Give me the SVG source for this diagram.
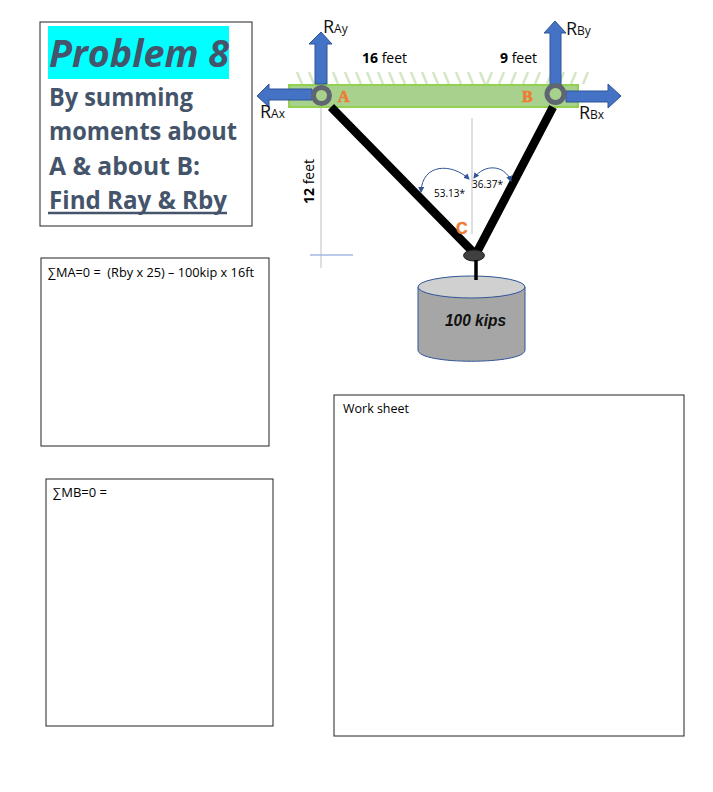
<svg xmlns="http://www.w3.org/2000/svg" width="713" height="792" viewBox="0 0 713 792">
<style>
text{font-family:"Open Sans","Noto Sans",sans-serif;fill:#000}
.box{fill:#fff;stroke:#222;stroke-width:1}
.title{font-size:37px;font-weight:700;font-style:italic;fill:#44546a}
.head{font-size:25.500px;font-weight:700;fill:#44546a}
.note{font-size:12px}
.r{font-size:18px;fill:#111}
.sub{font-size:12px;fill:#111}
.dim{font-size:14px}
.ang{font-size:10px}
.tag{font-family:"Liberation Serif",serif;font-weight:700;font-size:16px;fill:#ed7d31;stroke:#ed7d31;stroke-width:.6}
.tagc{font-family:"Liberation Sans",sans-serif;font-weight:700;font-size:16px;fill:#ed7d31;stroke:#ed7d31;stroke-width:.4}
.arr{fill:#4472c4;stroke:#2f5597;stroke-width:1}
.hatch{stroke:#d3e6c6;stroke-width:2.500;fill:none}
.bar{stroke:#000;stroke-width:8.500;fill:none}
.thin{stroke:#bfbfbf;stroke-width:1;fill:none}
.curve{stroke:#2f5597;stroke-width:1;fill:none;marker-start:url(#h);marker-end:url(#h)}
.pin{fill:#a9d18e;stroke:#5f6672;stroke-width:5}
</style>
<defs><marker id="h" markerWidth="6" markerHeight="6" refX="5" refY="3" orient="auto-start-reverse" markerUnits="userSpaceOnUse"><path d="M0 0L6 3L0 6z" fill="#2f5597"/></marker></defs>

<g id="problem">
<rect class="box" x="40" y="22" width="212" height="204"/>
<rect x="48" y="26" width="181" height="53" fill="#00ffff"/>
<text class="title" x="49" y="67" textLength="180" lengthAdjust="spacingAndGlyphs">Problem 8</text>
<text class="head" x="49" y="106" textLength="144" lengthAdjust="spacingAndGlyphs">By summing</text>
<text class="head" x="49" y="140" textLength="188" lengthAdjust="spacingAndGlyphs">moments about</text>
<text class="head" x="49" y="175" textLength="151" lengthAdjust="spacingAndGlyphs">A &amp; about B:</text>
<text class="head" x="49" y="209" textLength="178" lengthAdjust="spacingAndGlyphs">Find Ray &amp; Rby</text>
<path d="M48 213H227" stroke="#44546a" stroke-width="2.500"/>
</g>
<g id="sum-a"><rect class="box" x="41" y="258" width="228" height="188"/><text class="note" x="48" y="277" xml:space="preserve" textLength="206" lengthAdjust="spacingAndGlyphs">∑MA=0 =  (Rby x 25) – 100kip x 16ft</text></g>
<g id="sum-b"><rect class="box" x="46" y="479" width="227" height="247"/><text class="note" x="53" y="497" textLength="54" lengthAdjust="spacingAndGlyphs">∑MB=0 =</text></g>
<g id="worksheet"><rect class="box" x="334" y="395" width="350" height="341"/><text class="note" x="343" y="413" textLength="66" lengthAdjust="spacingAndGlyphs">Work sheet</text></g>

<g id="beam">
<path class="hatch" d="M297 72l5 12M309 72l5 12M321 72l5 12M333 72l5 12M345 72l5 12M356 72l5 12M367 72l5 12M378 72l5 12M389 72l5 12M400 72l5 12M411 72l5 12M422 72l5 12M433 72l5 12M444 72l5 12M456 72l5 12M468 72l5 12M480 72l5 12M492 72l-5 12M504 72l-5 12M516 72l-5 12M528 72l-5 12M540 72l-5 12M552 72l-5 12M564 72l-5 12M576 72l-5 12M588 72l-5 12"/>
<rect x="289" y="85" width="289" height="22" fill="#a9d18e" stroke="#92d050" stroke-width="2"/>
</g>

<g id="connectors">
<path class="thin" d="M321 108V268M472 118V234"/>
<path d="M310 255H353" stroke="#a4b9e2" stroke-width="1.500" fill="none"/>
<path class="bar" d="M331 107L474 253M553 107L477 252"/>
<path class="curve" d="M421 192C422 163 452 163 469 179"/>
<path class="curve" d="M474 178C484 164 504 164 511 181"/>
</g>

<g id="reaction-ay"><path class="arr" d="M315 84V44H309L321 32L332 44H327V84z"/><text class="r" x="323" y="33">R<tspan class="sub">Ay</tspan></text></g>
<g id="reaction-ax"><path class="arr" d="M312 89H269V84L257 96L269 107V100H312z"/><text class="r" x="260" y="118">R<tspan class="sub">Ax</tspan></text></g>
<g id="reaction-by"><path class="arr" d="M550 85V33H544L555 21L566 33H561V85z"/><text class="r" x="566" y="35">R<tspan class="sub">By</tspan></text></g>
<g id="reaction-bx"><path class="arr" d="M566 91H608V84L621 96L608 108V102H566z"/><text class="r" x="579" y="119">R<tspan class="sub">Bx</tspan></text></g>

<g id="pin-a"><circle class="pin" cx="321.500" cy="95.500" r="8"/><text class="tag" x="338" y="102">A</text></g>
<g id="pin-b"><circle class="pin" cx="555.500" cy="94" r="8.500"/><text class="tag" x="522" y="102">B</text></g>
<g id="joint-c"><ellipse cx="474" cy="255.500" rx="10.500" ry="5.500" fill="#404040" stroke="#222"/><text class="tagc" x="456" y="234">C</text></g>

<g id="load">
<path d="M418 287V350C418 365 525 365 525 350V287z" fill="#a6a6a6" stroke="#2f5597"/>
<ellipse cx="471.500" cy="287" rx="53.500" ry="11" fill="#d0d0d0" stroke="#2f5597"/>
<path d="M476 260V280" stroke="#000" stroke-width="3.500"/>
<text x="445" y="326" style="font-family:'Liberation Sans',sans-serif;font-size:16px;font-weight:700;font-style:italic;fill:#111" textLength="61" lengthAdjust="spacingAndGlyphs">100 kips</text>
</g>

<g id="labels">
<text class="dim" x="362" y="63"><tspan font-weight="700">16</tspan> feet</text>
<text class="dim" x="500" y="63"><tspan font-weight="700">9</tspan> feet</text>
<text class="dim" transform="translate(314 204) rotate(-90)"><tspan font-weight="700">12</tspan> feet</text>
<text class="ang" x="434" y="197">53.13*</text>
<text class="ang" x="472" y="188">36.37*</text>
</g>
</svg>
